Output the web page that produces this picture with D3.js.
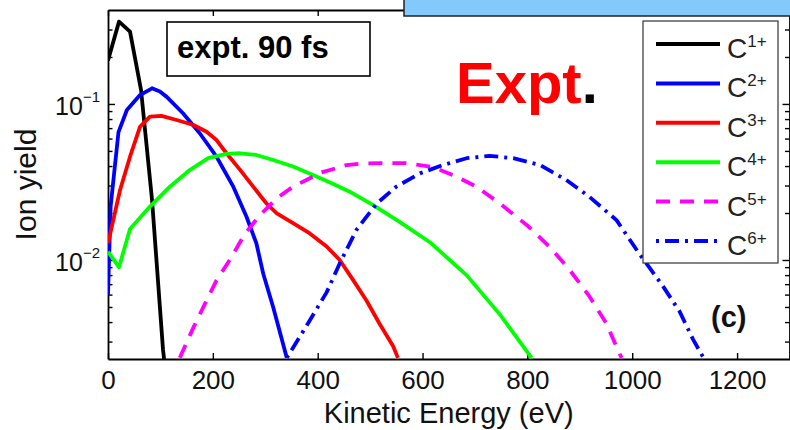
<!DOCTYPE html>
<html>
<head>
<meta charset="utf-8">
<script src="https://cdn.jsdelivr.net/npm/d3@7"></script>
<style>
  html, body { margin: 0; padding: 0; background: #fff; }
  svg { display: block; }
</style>
</head>
<body>
<svg id="chart" width="790" height="430"></svg>
<script>
// Ion yield versus kinetic energy (eV) for carbon charge states C1+ ... C6+
const energyC1 = [0, 21, 42, 63, 84, 105, 107];
const yieldC1  = [0.19, 0.337, 0.291, 0.123, 0.0243, 0.00265, 0.00232];

const energyC2 = [0, 5, 20, 36, 61, 84, 99, 112, 143, 175, 207, 239, 264, 283, 296, 315, 341];
const yieldC2  = [0.006, 0.022, 0.066, 0.0915, 0.114, 0.126, 0.12, 0.111, 0.0872, 0.0649, 0.0459, 0.0295, 0.019, 0.0128, 0.0082, 0.005, 0.00236];

const energyC3 = [0, 23, 42, 61, 80, 102, 131, 163, 188, 207, 226, 252, 277, 302, 322, 353, 385, 417, 442, 468, 493, 518, 544, 553];
const yieldC3  = [0.0128, 0.0281, 0.0459, 0.0714, 0.0829, 0.0838, 0.0789, 0.0733, 0.0664, 0.0587, 0.0483, 0.0378, 0.0295, 0.0231, 0.0199, 0.0172, 0.0148, 0.0122, 0.01, 0.0074, 0.0055, 0.0039, 0.0028, 0.00236];

const energyC4 = [0, 21, 42, 80, 118, 156, 191, 226, 252, 283, 315, 353, 391, 430, 461, 506, 557, 614, 684, 747, 808];
const yieldC4  = [0.0113, 0.009, 0.0158, 0.022, 0.0295, 0.0377, 0.0449, 0.0479, 0.0483, 0.0471, 0.0437, 0.0397, 0.0351, 0.0307, 0.0274, 0.0225, 0.0175, 0.013, 0.008, 0.0045, 0.00236];

const energyC5 = [137, 163, 188, 207, 233, 261, 290, 322, 353, 385, 404, 430, 455, 486, 519, 569, 595, 620, 665, 703, 747, 801, 843, 881, 919, 951, 976, 980];
const yieldC5  = [0.00236, 0.0037, 0.0055, 0.0074, 0.0101, 0.0147, 0.0194, 0.0249, 0.0295, 0.0334, 0.0362, 0.0383, 0.0406, 0.0416, 0.0417, 0.0417, 0.0406, 0.0394, 0.0342, 0.0295, 0.0231, 0.0165, 0.0121, 0.0086, 0.0058, 0.0039, 0.0025, 0.00236];

const energyC6 = [341, 379, 417, 442, 474, 512, 550, 595, 639, 684, 728, 773, 824, 874, 919, 970, 1014, 1056, 1090, 1116, 1136];
const yieldC6  = [0.00236, 0.0038, 0.0062, 0.0095, 0.0156, 0.0229, 0.0295, 0.0359, 0.0406, 0.0449, 0.0465, 0.0449, 0.0406, 0.0326, 0.0253, 0.018, 0.0109, 0.007, 0.0047, 0.0031, 0.00236];

const chargeLabels = ["1+", "2+", "3+", "4+", "5+", "6+"];

// Axis extents and ticks
const xDomain = [0, 1300];
const yDomain = [0.00232, 0.4];
const xTickValues = [0, 200, 400, 600, 800, 1000, 1200];
const yMajorTicks = [0.1, 0.01];
const yMajorExponents = ["\u22121", "\u22122"];
const yMinorTicks = [0.003, 0.004, 0.005, 0.006, 0.007, 0.008, 0.009,
                     0.02, 0.03, 0.04, 0.05, 0.06, 0.07, 0.08, 0.09, 0.2, 0.3];

// Text
const xAxisTitle = "Kinetic Energy (eV)";
const yAxisTitle = "Ion yield";
const boxTitle = "expt. 90 fs";
const panelTag = "(c)";
const bigWord = "Expt";

// ---- drawing ----
const FONT = '"Liberation Sans", Arial, Helvetica, sans-serif';
const plot = { left: 108, right: 789.5, top: 10, bottom: 359 };

const styles = [
  { color: "#000000", dash: null },
  { color: "#0000ff", dash: null },
  { color: "#ff0000", dash: null },
  { color: "#00ff00", dash: null },
  { color: "#ff00ff", dash: "14,10" },
  { color: "#0000ff", dash: "3,6,14,6" }
];

const series = [
  [energyC1, yieldC1], [energyC2, yieldC2], [energyC3, yieldC3],
  [energyC4, yieldC4], [energyC5, yieldC5], [energyC6, yieldC6]
].map(([e, v], i) => ({
  label: chargeLabels[i],
  points: e.map((d, j) => [d, v[j]]),
  ...styles[i]
}));

const svg = d3.select("#chart").attr("font-family", FONT);

const x = d3.scaleLinear().domain(xDomain).range([plot.left, plot.right]);
const y = d3.scaleLog().domain(yDomain).range([plot.bottom, plot.top]);

svg.append("defs").append("clipPath").attr("id", "plotClip")
  .append("rect")
  .attr("x", plot.left).attr("y", plot.top)
  .attr("width", plot.right - plot.left).attr("height", plot.bottom - plot.top);

// axes (ticks point inward on all four sides)
function styleAxis(g, width) {
  g.selectAll(".domain").attr("stroke", "#000").attr("stroke-width", width);
  g.selectAll(".tick line").attr("stroke", "#000").attr("stroke-width", 1.4);
}

const gBottom = svg.append("g")
  .attr("transform", `translate(0,${plot.bottom})`)
  .call(d3.axisBottom(x).tickValues(xTickValues).tickSizeInner(-6).tickSizeOuter(0)
        .tickPadding(12).tickFormat(d3.format("d")));
gBottom.attr("font-size", 26).attr("font-family", FONT);
gBottom.selectAll("text").attr("fill", "#111");
styleAxis(gBottom, 1.8);

const gTop = svg.append("g")
  .attr("transform", `translate(0,${plot.top})`)
  .call(d3.axisTop(x).tickValues(xTickValues).tickSizeInner(-6).tickSizeOuter(0).tickFormat(""));
styleAxis(gTop, 1.8);

const gLeft = svg.append("g")
  .attr("transform", `translate(${plot.left},0)`)
  .call(d3.axisLeft(y).tickValues(yMajorTicks).tickSizeInner(-7).tickSizeOuter(0).tickFormat(""));
styleAxis(gLeft, 1.8);

gLeft.selectAll(".tick").each(function(d, i) {
  const t = d3.select(this).append("text")
    .attr("x", -8).attr("y", 11)
    .attr("text-anchor", "end")
    .attr("fill", "#111")
    .attr("font-family", FONT)
    .attr("font-size", 25);
  t.append("tspan").text("10");
  t.append("tspan").attr("dy", -13).attr("font-size", 15).text(yMajorExponents[i]);
});

const gLeftMinor = svg.append("g")
  .attr("transform", `translate(${plot.left},0)`)
  .call(d3.axisLeft(y).tickValues(yMinorTicks).tickSizeInner(-4.5).tickSizeOuter(0).tickFormat(""));
gLeftMinor.select(".domain").remove();
styleAxis(gLeftMinor, 1.8);

const gRight = svg.append("g")
  .attr("transform", `translate(${plot.right},0)`)
  .call(d3.axisRight(y).tickValues(yMajorTicks).tickSizeInner(-7).tickSizeOuter(0).tickFormat(""));
styleAxis(gRight, 1.8);

const gRightMinor = svg.append("g")
  .attr("transform", `translate(${plot.right},0)`)
  .call(d3.axisRight(y).tickValues(yMinorTicks).tickSizeInner(-4.5).tickSizeOuter(0).tickFormat(""));
gRightMinor.select(".domain").remove();
styleAxis(gRightMinor, 1.8);

// axis titles
svg.append("text")
  .attr("x", (plot.left + plot.right) / 2).attr("y", 423)
  .attr("text-anchor", "middle").attr("font-size", 29).attr("fill", "#111")
  .text(xAxisTitle);

svg.append("text")
  .attr("transform", `translate(36,${(plot.top + plot.bottom) / 2}) rotate(-90)`)
  .attr("text-anchor", "middle").attr("font-size", 30).attr("fill", "#111")
  .text(yAxisTitle);

// data lines
const line = d3.line().x(d => x(d[0])).y(d => y(d[1]));
const gLines = svg.append("g").attr("clip-path", "url(#plotClip)");
series.forEach(s => {
  gLines.append("path")
    .attr("d", line(s.points))
    .attr("fill", "none")
    .attr("stroke", s.color)
    .attr("stroke-width", 3.8)
    .attr("stroke-linejoin", "round")
    .attr("stroke-dasharray", s.dash);
});

// legend
const legend = svg.append("g");
legend.append("rect")
  .attr("x", 643).attr("y", 21).attr("width", 135).attr("height", 242)
  .attr("fill", "#fff").attr("stroke", "#333").attr("stroke-width", 1.2);
series.forEach((s, i) => {
  const ry = 44 + i * 39.4;
  legend.append("line")
    .attr("x1", 656).attr("x2", 720).attr("y1", ry).attr("y2", ry)
    .attr("stroke", s.color).attr("stroke-width", 4)
    .attr("stroke-dasharray", s.dash);
  const t = legend.append("text")
    .attr("x", 727).attr("y", ry + 14)
    .attr("font-size", 28).attr("fill", "#222");
  t.append("tspan").text("C");
  t.append("tspan").attr("dy", -11).attr("font-size", 17).text(s.label);
});

// annotation box
svg.append("rect")
  .attr("x", 167).attr("y", 22).attr("width", 203).attr("height", 54)
  .attr("fill", "#fff").attr("stroke", "#000").attr("stroke-width", 1.6);
svg.append("text")
  .attr("x", 177).attr("y", 58)
  .attr("font-size", 31).attr("font-weight", "bold").attr("fill", "#000")
  .text(boxTitle);

svg.append("text")
  .attr("x", 711).attr("y", 327)
  .attr("font-size", 29).attr("font-weight", "bold").attr("fill", "#111")
  .text(panelTag);

const big = svg.append("text")
  .attr("x", 456).attr("y", 103)
  .attr("font-size", 58).attr("font-weight", "bold");
big.append("tspan").attr("fill", "#ff0000").text(bigWord);
big.append("tspan").attr("fill", "#000").text(".");

// banner across the top edge
svg.append("rect")
  .attr("x", 404).attr("y", -2).attr("width", 400).attr("height", 18)
  .attr("fill", "#84c9fb").attr("stroke", "#222").attr("stroke-width", 1.5);
</script>
</body>
</html>
